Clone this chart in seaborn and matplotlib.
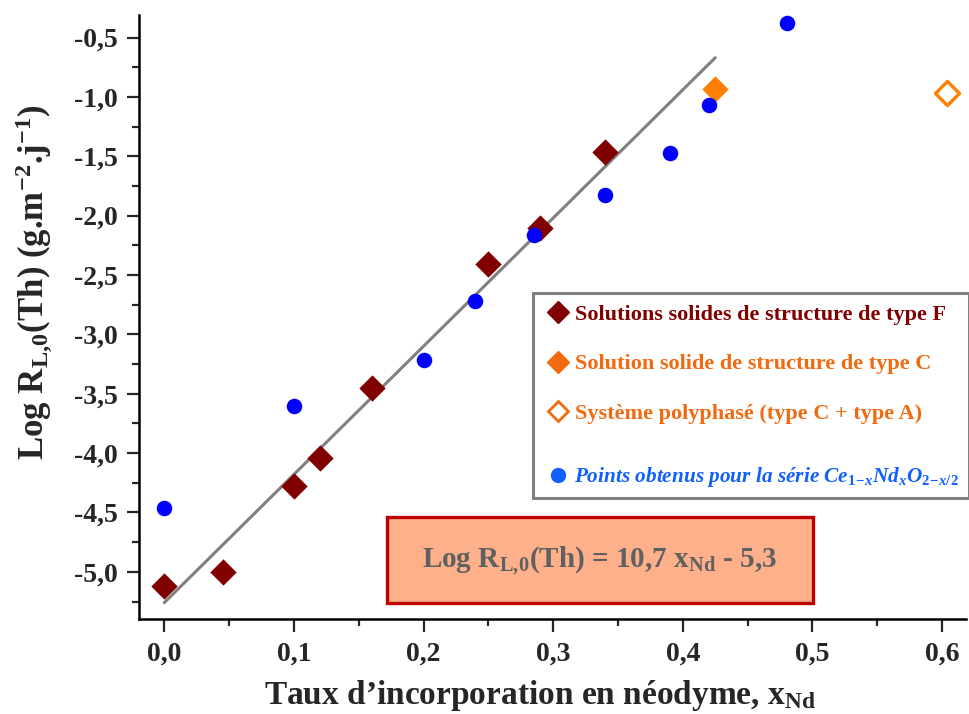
import numpy as np
import pandas as pd
import seaborn as sns
import matplotlib
matplotlib.use("Agg")
from matplotlib import pyplot as plt
from matplotlib.lines import Line2D
from matplotlib.patches import Rectangle
from matplotlib.ticker import MultipleLocator, FuncFormatter

# data
x_F = [0.0, 0.045, 0.10, 0.12, 0.16, 0.25, 0.29, 0.34]
y_F = [-5.12, -5.00, -4.28, -4.04, -3.45, -2.41, -2.10, -1.46]
x_C = [0.425]
y_C = [-0.93]
x_CA = [0.604]
y_CA = [-0.97]
x_ce = [0.0, 0.10, 0.20, 0.24, 0.285, 0.34, 0.39, 0.42, 0.48]
y_ce = [-4.46, -3.60, -3.22, -2.72, -2.16, -1.83, -1.47, -1.07, -0.38]
fit_slope = 10.8
fit_intercept = -5.26
fit_x = [0.0, 0.425]

sns.set_style("white")
plt.rcParams['font.family'] = ['Liberation Serif', 'DejaVu Serif']
plt.rcParams['font.weight'] = 'bold'
plt.rcParams['mathtext.fontset'] = 'custom'
plt.rcParams['mathtext.rm'] = 'Liberation Serif:bold'
plt.rcParams['mathtext.it'] = 'Liberation Serif:bold:italic'
plt.rcParams['mathtext.bf'] = 'Liberation Serif:bold'

dark_red = '#800000'
orange = '#FF8000'
leg_orange = '#F26A10'
blue = '#0000FF'
leg_blue = '#1060FF'

df_F = pd.DataFrame({'x': x_F, 'y': y_F})
df_C = pd.DataFrame({'x': x_C, 'y': y_C})
df_CA = pd.DataFrame({'x': x_CA, 'y': y_CA})
df_ce = pd.DataFrame({'x': x_ce, 'y': y_ce})
df_fit = pd.DataFrame({'x': fit_x, 'y': [fit_intercept + fit_slope * v for v in fit_x]})

fig = plt.figure(figsize=(9.69, 7.14), dpi=100)
ax = fig.add_axes([0.1434, 0.1326, 0.8536, 0.8464])

sns.lineplot(data=df_fit, x='x', y='y', ax=ax, color='#808080', linewidth=2.2, zorder=1)
sns.scatterplot(data=df_F, x='x', y='y', ax=ax, marker='D', s=180, color=dark_red,
                linewidth=0, zorder=3)
sns.scatterplot(data=df_ce, x='x', y='y', ax=ax, marker='o', s=125, color=blue,
                linewidth=0, zorder=4)
sns.scatterplot(data=df_C, x='x', y='y', ax=ax, marker='D', s=180, color=orange,
                linewidth=0, zorder=3)
sns.scatterplot(data=df_CA, x='x', y='y', ax=ax, marker='D', s=150, facecolor='white',
                edgecolor=orange, linewidth=2.4, zorder=3)

ax.set_xlim(-0.0195, 0.6185)
ax.set_ylim(-5.40, -0.31)
ax.xaxis.set_major_locator(MultipleLocator(0.1))
ax.xaxis.set_minor_locator(MultipleLocator(0.05))
ax.yaxis.set_major_locator(MultipleLocator(0.5))
ax.yaxis.set_minor_locator(MultipleLocator(0.25))
ax.xaxis.set_major_formatter(FuncFormatter(lambda v, p: f"{v:.1f}".replace('.', ',').replace('-0,0', '0,0')))
ax.yaxis.set_major_formatter(FuncFormatter(lambda v, p: f"{v:.1f}".replace('.', ',')))

for s in ['top', 'right']:
    ax.spines[s].set_visible(False)
for s in ['left', 'bottom']:
    ax.spines[s].set_linewidth(1.8)
    ax.spines[s].set_color('black')
ax.tick_params(which='major', direction='out', length=9, width=1.6, labelsize=20,
               left=True, bottom=True)
ax.tick_params(axis='y', which='major', pad=6)
ax.tick_params(axis='x', which='major', pad=7)
ax.tick_params(which='minor', direction='out', length=5, width=1.6, left=True, bottom=True)
for lab in ax.get_xticklabels() + ax.get_yticklabels():
    lab.set_fontweight('bold')

ax.set_xlabel(r"Taux d’incorporation en néodyme, x$_{\mathrm{Nd}}$", fontsize=24,
              fontweight='bold')
ax.xaxis.set_label_coords(0.4855, -0.097)
ax.set_ylabel(r"Log R$_{\mathrm{L,\!0}}$(Th) (g.m$^{\mathrm{-2}}$.j$^{\mathrm{-1}}$)",
              fontsize=25, fontweight='bold')
ax.yaxis.set_label_coords(-0.101, 0.558)

# legend frame + two legends (extra gap before last entry)
ax.add_patch(Rectangle((0.477, 0.2007), 0.527, 0.340, transform=ax.transAxes,
                       facecolor='white', edgecolor='#808080', linewidth=2.2,
                       clip_on=False, zorder=5))

handles1 = [
    Line2D([], [], marker='D', linestyle='', markersize=11, color=dark_red),
    Line2D([], [], marker='D', linestyle='', markersize=11, color=leg_orange),
    Line2D([], [], marker='D', linestyle='', markersize=10, markerfacecolor='white',
           markeredgecolor=leg_orange, markeredgewidth=2.0),
]
labels1 = [
    "Solutions solides de structure de type F",
    "Solution solide de structure de type C",
    "Système polyphasé (type C + type A)",
]
handles2 = [Line2D([], [], marker='o', linestyle='', markersize=10, color=leg_blue)]
labels2 = [r"Points obtenus pour la série Ce$_{\mathit{1\!-\!x}}$Nd$_{\mathit{x}}$O$_{\mathit{2\!-\!x/2}}$"]

leg1 = ax.legend(handles1, labels1, loc='upper left', bbox_to_anchor=(0.4964, 0.521),
                 frameon=False, handlelength=0.8, handletextpad=0.36, borderpad=0,
                 borderaxespad=0, labelspacing=1.3, fontsize=16)
for t, c in zip(leg1.get_texts(), [dark_red, leg_orange, leg_orange]):
    t.set_color(c)
    t.set_fontweight('bold')
leg1.set_zorder(6)
ax.add_artist(leg1)

leg2 = ax.legend(handles2, labels2, loc='upper left', bbox_to_anchor=(0.4964, 0.255),
                 frameon=False, handlelength=0.8, handletextpad=0.36, borderpad=0,
                 borderaxespad=0, fontsize=15.3)
for t in leg2.get_texts():
    t.set_color(leg_blue)
    t.set_fontweight('bold')
    t.set_fontstyle('italic')
leg2.set_zorder(6)

# equation box
ax.add_patch(Rectangle((0.1722, -5.266), 0.3282, 0.725, facecolor='#FDB08A',
                       edgecolor='#C00000', linewidth=2.4, zorder=2))
ax.text(0.336, -4.905, r"Log R$_{\mathrm{L,\!0}}$(Th) = 10,7 x$_{\mathrm{Nd}}$ - 5,3",
        fontsize=21, fontweight='bold', color='#606060', ha='center', va='center',
        zorder=3)

fig.savefig('out.png', dpi=100)
